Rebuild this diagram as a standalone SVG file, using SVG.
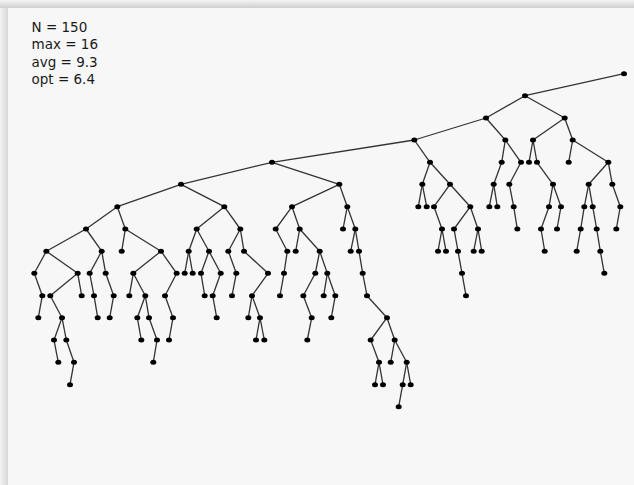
<svg xmlns="http://www.w3.org/2000/svg" xmlns:xlink="http://www.w3.org/1999/xlink" width="634" height="485" viewBox="0 0 634 485">
<style>
.lbl{font-family:"DejaVu Sans","Liberation Sans",sans-serif;font-size:13.5px;fill:#1a1a1a}
.edges line{stroke:#333;stroke-width:1.3}
.dot{fill:#000}
</style>
<defs>
<ellipse id="dot" class="dot" cx="0" cy="0" rx="3" ry="2.5"/>
<linearGradient id="shL" x1="0" y1="0" x2="1" y2="0"><stop offset="0" stop-color="#f4f4f4"/><stop offset="1" stop-color="#d6d6d6"/></linearGradient>
<linearGradient id="shT" x1="0" y1="0" x2="0" y2="1"><stop offset="0" stop-color="#f4f4f4"/><stop offset="1" stop-color="#cfcfcf"/></linearGradient>
</defs>
<rect x="0" y="0" width="634" height="485" fill="#fbfbfb"/>
<rect x="0" y="0" width="8" height="485" fill="url(#shL)"/>
<rect x="0" y="0" width="634" height="8" fill="url(#shT)"/>
<rect x="8" y="8" width="626" height="477" fill="#f7f7f7"/>
<g id="stats">
<text class="lbl" x="31.5" y="32">N = 150</text>
<text class="lbl" x="31.5" y="49.3">max = 16</text>
<text class="lbl" x="31.5" y="66.6">avg = 9.3</text>
<text class="lbl" x="31.5" y="83.9">opt = 6.4</text>
</g>
<g class="edges" id="connectors">
<line x1="624" y1="73.7" x2="525" y2="95.7"/>
<line x1="525" y1="95.7" x2="486" y2="118"/>
<line x1="525" y1="95.7" x2="564.7" y2="118"/>
<line x1="486" y1="118" x2="414.3" y2="140"/>
<line x1="486" y1="118" x2="505.3" y2="140"/>
<line x1="564.7" y1="118" x2="533" y2="140"/>
<line x1="564.7" y1="118" x2="572.7" y2="140"/>
<line x1="414.3" y1="140" x2="272" y2="162.3"/>
<line x1="414.3" y1="140" x2="430" y2="162.3"/>
<line x1="505.3" y1="140" x2="501.7" y2="162.3"/>
<line x1="505.3" y1="140" x2="521" y2="162.3"/>
<line x1="533" y1="140" x2="529" y2="162.3"/>
<line x1="533" y1="140" x2="537" y2="162.3"/>
<line x1="572.7" y1="140" x2="568.7" y2="162.3"/>
<line x1="572.7" y1="140" x2="608.3" y2="162.3"/>
<line x1="272" y1="162.3" x2="181" y2="184.3"/>
<line x1="272" y1="162.3" x2="339.3" y2="184.3"/>
<line x1="430" y1="162.3" x2="422.3" y2="184.3"/>
<line x1="430" y1="162.3" x2="450" y2="184.3"/>
<line x1="501.7" y1="162.3" x2="493.7" y2="184.3"/>
<line x1="521" y1="162.3" x2="509.3" y2="184.3"/>
<line x1="537" y1="162.3" x2="553" y2="184.3"/>
<line x1="608.3" y1="162.3" x2="588.7" y2="184.3"/>
<line x1="608.3" y1="162.3" x2="612.3" y2="184.3"/>
<line x1="181" y1="184.3" x2="117.3" y2="206.7"/>
<line x1="181" y1="184.3" x2="224.3" y2="206.7"/>
<line x1="339.3" y1="184.3" x2="292" y2="206.7"/>
<line x1="339.3" y1="184.3" x2="347.3" y2="206.7"/>
<line x1="422.3" y1="184.3" x2="418.3" y2="206.7"/>
<line x1="422.3" y1="184.3" x2="426.7" y2="206.7"/>
<line x1="450" y1="184.3" x2="434" y2="206.7"/>
<line x1="450" y1="184.3" x2="470.3" y2="206.7"/>
<line x1="493.7" y1="184.3" x2="489.3" y2="206.7"/>
<line x1="493.7" y1="184.3" x2="497.3" y2="206.7"/>
<line x1="509.3" y1="184.3" x2="513.7" y2="206.7"/>
<line x1="553" y1="184.3" x2="549" y2="206.7"/>
<line x1="553" y1="184.3" x2="561" y2="206.7"/>
<line x1="588.7" y1="184.3" x2="584.3" y2="206.7"/>
<line x1="588.7" y1="184.3" x2="592.7" y2="206.7"/>
<line x1="612.3" y1="184.3" x2="620.3" y2="206.7"/>
<line x1="117.3" y1="206.7" x2="86" y2="229"/>
<line x1="117.3" y1="206.7" x2="125.3" y2="229"/>
<line x1="224.3" y1="206.7" x2="196.7" y2="229"/>
<line x1="224.3" y1="206.7" x2="240.3" y2="229"/>
<line x1="292" y1="206.7" x2="275.7" y2="229"/>
<line x1="292" y1="206.7" x2="299.7" y2="229"/>
<line x1="347.3" y1="206.7" x2="343" y2="229"/>
<line x1="347.3" y1="206.7" x2="355.3" y2="229"/>
<line x1="434" y1="206.7" x2="442" y2="229"/>
<line x1="470.3" y1="206.7" x2="454" y2="229"/>
<line x1="470.3" y1="206.7" x2="478" y2="229"/>
<line x1="513.7" y1="206.7" x2="517.3" y2="229"/>
<line x1="549" y1="206.7" x2="541" y2="229"/>
<line x1="561" y1="206.7" x2="557" y2="229"/>
<line x1="584.3" y1="206.7" x2="580.7" y2="229"/>
<line x1="592.7" y1="206.7" x2="596.7" y2="229"/>
<line x1="620.3" y1="206.7" x2="616.3" y2="229"/>
<line x1="86" y1="229" x2="46.3" y2="251.2"/>
<line x1="86" y1="229" x2="101.7" y2="251.2"/>
<line x1="125.3" y1="229" x2="121.7" y2="251.2"/>
<line x1="125.3" y1="229" x2="161" y2="251.2"/>
<line x1="196.7" y1="229" x2="188.7" y2="251.2"/>
<line x1="196.7" y1="229" x2="209" y2="251.2"/>
<line x1="240.3" y1="229" x2="228.3" y2="251.2"/>
<line x1="240.3" y1="229" x2="244" y2="251.2"/>
<line x1="275.7" y1="229" x2="287.3" y2="251.2"/>
<line x1="299.7" y1="229" x2="295.7" y2="251.2"/>
<line x1="299.7" y1="229" x2="319.7" y2="251.2"/>
<line x1="355.3" y1="229" x2="350.7" y2="251.2"/>
<line x1="355.3" y1="229" x2="359" y2="251.2"/>
<line x1="442" y1="229" x2="438" y2="251.2"/>
<line x1="442" y1="229" x2="446" y2="251.2"/>
<line x1="454" y1="229" x2="458" y2="251.2"/>
<line x1="478" y1="229" x2="473.7" y2="251.2"/>
<line x1="478" y1="229" x2="481.7" y2="251.2"/>
<line x1="541" y1="229" x2="544.7" y2="251.2"/>
<line x1="580.7" y1="229" x2="576.7" y2="251.2"/>
<line x1="596.7" y1="229" x2="600.3" y2="251.2"/>
<line x1="46.3" y1="251.2" x2="34.3" y2="273.3"/>
<line x1="46.3" y1="251.2" x2="77.7" y2="273.3"/>
<line x1="101.7" y1="251.2" x2="89.7" y2="273.3"/>
<line x1="101.7" y1="251.2" x2="105.7" y2="273.3"/>
<line x1="161" y1="251.2" x2="133.3" y2="273.3"/>
<line x1="161" y1="251.2" x2="176.7" y2="273.3"/>
<line x1="188.7" y1="251.2" x2="184.7" y2="273.3"/>
<line x1="188.7" y1="251.2" x2="192.7" y2="273.3"/>
<line x1="209" y1="251.2" x2="201" y2="273.3"/>
<line x1="209" y1="251.2" x2="220.7" y2="273.3"/>
<line x1="228.3" y1="251.2" x2="236.3" y2="273.3"/>
<line x1="244" y1="251.2" x2="268" y2="273.3"/>
<line x1="287.3" y1="251.2" x2="284" y2="273.3"/>
<line x1="319.7" y1="251.2" x2="315.3" y2="273.3"/>
<line x1="319.7" y1="251.2" x2="327.3" y2="273.3"/>
<line x1="359" y1="251.2" x2="362.7" y2="273.3"/>
<line x1="458" y1="251.2" x2="462" y2="273.3"/>
<line x1="600.3" y1="251.2" x2="604.3" y2="273.3"/>
<line x1="34.3" y1="273.3" x2="42.3" y2="295.7"/>
<line x1="77.7" y1="273.3" x2="50.3" y2="295.7"/>
<line x1="77.7" y1="273.3" x2="81.7" y2="295.7"/>
<line x1="89.7" y1="273.3" x2="94" y2="295.7"/>
<line x1="105.7" y1="273.3" x2="113.7" y2="295.7"/>
<line x1="133.3" y1="273.3" x2="129.3" y2="295.7"/>
<line x1="133.3" y1="273.3" x2="145.3" y2="295.7"/>
<line x1="176.7" y1="273.3" x2="165" y2="295.7"/>
<line x1="201" y1="273.3" x2="204.7" y2="295.7"/>
<line x1="220.7" y1="273.3" x2="212.7" y2="295.7"/>
<line x1="236.3" y1="273.3" x2="232" y2="295.7"/>
<line x1="268" y1="273.3" x2="252" y2="295.7"/>
<line x1="284" y1="273.3" x2="280" y2="295.7"/>
<line x1="315.3" y1="273.3" x2="303.3" y2="295.7"/>
<line x1="327.3" y1="273.3" x2="323.7" y2="295.7"/>
<line x1="327.3" y1="273.3" x2="335.3" y2="295.7"/>
<line x1="362.7" y1="273.3" x2="367" y2="295.7"/>
<line x1="462" y1="273.3" x2="466" y2="295.7"/>
<line x1="42.3" y1="295.7" x2="38.3" y2="317.7"/>
<line x1="50.3" y1="295.7" x2="62" y2="317.7"/>
<line x1="94" y1="295.7" x2="97.7" y2="317.7"/>
<line x1="113.7" y1="295.7" x2="109.7" y2="317.7"/>
<line x1="145.3" y1="295.7" x2="137.3" y2="317.7"/>
<line x1="145.3" y1="295.7" x2="149" y2="317.7"/>
<line x1="165" y1="295.7" x2="173" y2="317.7"/>
<line x1="212.7" y1="295.7" x2="216.7" y2="317.7"/>
<line x1="252" y1="295.7" x2="248.3" y2="317.7"/>
<line x1="252" y1="295.7" x2="260" y2="317.7"/>
<line x1="303.3" y1="295.7" x2="311.7" y2="317.7"/>
<line x1="335.3" y1="295.7" x2="331.3" y2="317.7"/>
<line x1="367" y1="295.7" x2="387" y2="317.7"/>
<line x1="62" y1="317.7" x2="54" y2="340"/>
<line x1="62" y1="317.7" x2="66.3" y2="340"/>
<line x1="137.3" y1="317.7" x2="141.3" y2="340"/>
<line x1="149" y1="317.7" x2="157" y2="340"/>
<line x1="173" y1="317.7" x2="169" y2="340"/>
<line x1="260" y1="317.7" x2="256" y2="340"/>
<line x1="260" y1="317.7" x2="264.3" y2="340"/>
<line x1="311.7" y1="317.7" x2="307.3" y2="340"/>
<line x1="387" y1="317.7" x2="370.7" y2="340"/>
<line x1="387" y1="317.7" x2="394.7" y2="340"/>
<line x1="54" y1="340" x2="58.3" y2="362.3"/>
<line x1="66.3" y1="340" x2="74" y2="362.3"/>
<line x1="157" y1="340" x2="153.3" y2="362.3"/>
<line x1="370.7" y1="340" x2="379" y2="362.3"/>
<line x1="394.7" y1="340" x2="390.7" y2="362.3"/>
<line x1="394.7" y1="340" x2="406.7" y2="362.3"/>
<line x1="74" y1="362.3" x2="70" y2="384.7"/>
<line x1="379" y1="362.3" x2="375" y2="384.7"/>
<line x1="379" y1="362.3" x2="383" y2="384.7"/>
<line x1="406.7" y1="362.3" x2="402.7" y2="384.7"/>
<line x1="406.7" y1="362.3" x2="410.7" y2="384.7"/>
<line x1="402.7" y1="384.7" x2="398.7" y2="406.7"/>
</g>
<g id="nodes">
<g id="n0"><use href="#dot" x="624" y="73.7"/></g>
<g id="n1"><use href="#dot" x="525" y="95.7"/></g>
<g id="n2"><use href="#dot" x="486" y="118"/></g>
<g id="n3"><use href="#dot" x="564.7" y="118"/></g>
<g id="n4"><use href="#dot" x="414.3" y="140"/></g>
<g id="n5"><use href="#dot" x="505.3" y="140"/></g>
<g id="n6"><use href="#dot" x="533" y="140"/></g>
<g id="n7"><use href="#dot" x="572.7" y="140"/></g>
<g id="n8"><use href="#dot" x="272" y="162.3"/></g>
<g id="n9"><use href="#dot" x="430" y="162.3"/></g>
<g id="n10"><use href="#dot" x="501.7" y="162.3"/></g>
<g id="n11"><use href="#dot" x="521" y="162.3"/></g>
<g id="n12"><use href="#dot" x="529" y="162.3"/></g>
<g id="n13"><use href="#dot" x="537" y="162.3"/></g>
<g id="n14"><use href="#dot" x="568.7" y="162.3"/></g>
<g id="n15"><use href="#dot" x="608.3" y="162.3"/></g>
<g id="n16"><use href="#dot" x="181" y="184.3"/></g>
<g id="n17"><use href="#dot" x="339.3" y="184.3"/></g>
<g id="n18"><use href="#dot" x="422.3" y="184.3"/></g>
<g id="n19"><use href="#dot" x="450" y="184.3"/></g>
<g id="n20"><use href="#dot" x="493.7" y="184.3"/></g>
<g id="n21"><use href="#dot" x="509.3" y="184.3"/></g>
<g id="n22"><use href="#dot" x="553" y="184.3"/></g>
<g id="n23"><use href="#dot" x="588.7" y="184.3"/></g>
<g id="n24"><use href="#dot" x="612.3" y="184.3"/></g>
<g id="n25"><use href="#dot" x="117.3" y="206.7"/></g>
<g id="n26"><use href="#dot" x="224.3" y="206.7"/></g>
<g id="n27"><use href="#dot" x="292" y="206.7"/></g>
<g id="n28"><use href="#dot" x="347.3" y="206.7"/></g>
<g id="n29"><use href="#dot" x="418.3" y="206.7"/></g>
<g id="n30"><use href="#dot" x="426.7" y="206.7"/></g>
<g id="n31"><use href="#dot" x="434" y="206.7"/></g>
<g id="n32"><use href="#dot" x="470.3" y="206.7"/></g>
<g id="n33"><use href="#dot" x="489.3" y="206.7"/></g>
<g id="n34"><use href="#dot" x="497.3" y="206.7"/></g>
<g id="n35"><use href="#dot" x="513.7" y="206.7"/></g>
<g id="n36"><use href="#dot" x="549" y="206.7"/></g>
<g id="n37"><use href="#dot" x="561" y="206.7"/></g>
<g id="n38"><use href="#dot" x="584.3" y="206.7"/></g>
<g id="n39"><use href="#dot" x="592.7" y="206.7"/></g>
<g id="n40"><use href="#dot" x="620.3" y="206.7"/></g>
<g id="n41"><use href="#dot" x="86" y="229"/></g>
<g id="n42"><use href="#dot" x="125.3" y="229"/></g>
<g id="n43"><use href="#dot" x="196.7" y="229"/></g>
<g id="n44"><use href="#dot" x="240.3" y="229"/></g>
<g id="n45"><use href="#dot" x="275.7" y="229"/></g>
<g id="n46"><use href="#dot" x="299.7" y="229"/></g>
<g id="n47"><use href="#dot" x="343" y="229"/></g>
<g id="n48"><use href="#dot" x="355.3" y="229"/></g>
<g id="n49"><use href="#dot" x="442" y="229"/></g>
<g id="n50"><use href="#dot" x="454" y="229"/></g>
<g id="n51"><use href="#dot" x="478" y="229"/></g>
<g id="n52"><use href="#dot" x="517.3" y="229"/></g>
<g id="n53"><use href="#dot" x="541" y="229"/></g>
<g id="n54"><use href="#dot" x="557" y="229"/></g>
<g id="n55"><use href="#dot" x="580.7" y="229"/></g>
<g id="n56"><use href="#dot" x="596.7" y="229"/></g>
<g id="n57"><use href="#dot" x="616.3" y="229"/></g>
<g id="n58"><use href="#dot" x="46.3" y="251.2"/></g>
<g id="n59"><use href="#dot" x="101.7" y="251.2"/></g>
<g id="n60"><use href="#dot" x="121.7" y="251.2"/></g>
<g id="n61"><use href="#dot" x="161" y="251.2"/></g>
<g id="n62"><use href="#dot" x="188.7" y="251.2"/></g>
<g id="n63"><use href="#dot" x="209" y="251.2"/></g>
<g id="n64"><use href="#dot" x="228.3" y="251.2"/></g>
<g id="n65"><use href="#dot" x="244" y="251.2"/></g>
<g id="n66"><use href="#dot" x="287.3" y="251.2"/></g>
<g id="n67"><use href="#dot" x="295.7" y="251.2"/></g>
<g id="n68"><use href="#dot" x="319.7" y="251.2"/></g>
<g id="n69"><use href="#dot" x="350.7" y="251.2"/></g>
<g id="n70"><use href="#dot" x="359" y="251.2"/></g>
<g id="n71"><use href="#dot" x="438" y="251.2"/></g>
<g id="n72"><use href="#dot" x="446" y="251.2"/></g>
<g id="n73"><use href="#dot" x="458" y="251.2"/></g>
<g id="n74"><use href="#dot" x="473.7" y="251.2"/></g>
<g id="n75"><use href="#dot" x="481.7" y="251.2"/></g>
<g id="n76"><use href="#dot" x="544.7" y="251.2"/></g>
<g id="n77"><use href="#dot" x="576.7" y="251.2"/></g>
<g id="n78"><use href="#dot" x="600.3" y="251.2"/></g>
<g id="n79"><use href="#dot" x="34.3" y="273.3"/></g>
<g id="n80"><use href="#dot" x="77.7" y="273.3"/></g>
<g id="n81"><use href="#dot" x="89.7" y="273.3"/></g>
<g id="n82"><use href="#dot" x="105.7" y="273.3"/></g>
<g id="n83"><use href="#dot" x="133.3" y="273.3"/></g>
<g id="n84"><use href="#dot" x="176.7" y="273.3"/></g>
<g id="n85"><use href="#dot" x="184.7" y="273.3"/></g>
<g id="n86"><use href="#dot" x="192.7" y="273.3"/></g>
<g id="n87"><use href="#dot" x="201" y="273.3"/></g>
<g id="n88"><use href="#dot" x="220.7" y="273.3"/></g>
<g id="n89"><use href="#dot" x="236.3" y="273.3"/></g>
<g id="n90"><use href="#dot" x="268" y="273.3"/></g>
<g id="n91"><use href="#dot" x="284" y="273.3"/></g>
<g id="n92"><use href="#dot" x="315.3" y="273.3"/></g>
<g id="n93"><use href="#dot" x="327.3" y="273.3"/></g>
<g id="n94"><use href="#dot" x="362.7" y="273.3"/></g>
<g id="n95"><use href="#dot" x="462" y="273.3"/></g>
<g id="n96"><use href="#dot" x="604.3" y="273.3"/></g>
<g id="n97"><use href="#dot" x="42.3" y="295.7"/></g>
<g id="n98"><use href="#dot" x="50.3" y="295.7"/></g>
<g id="n99"><use href="#dot" x="81.7" y="295.7"/></g>
<g id="n100"><use href="#dot" x="94" y="295.7"/></g>
<g id="n101"><use href="#dot" x="113.7" y="295.7"/></g>
<g id="n102"><use href="#dot" x="129.3" y="295.7"/></g>
<g id="n103"><use href="#dot" x="145.3" y="295.7"/></g>
<g id="n104"><use href="#dot" x="165" y="295.7"/></g>
<g id="n105"><use href="#dot" x="204.7" y="295.7"/></g>
<g id="n106"><use href="#dot" x="212.7" y="295.7"/></g>
<g id="n107"><use href="#dot" x="232" y="295.7"/></g>
<g id="n108"><use href="#dot" x="252" y="295.7"/></g>
<g id="n109"><use href="#dot" x="280" y="295.7"/></g>
<g id="n110"><use href="#dot" x="303.3" y="295.7"/></g>
<g id="n111"><use href="#dot" x="323.7" y="295.7"/></g>
<g id="n112"><use href="#dot" x="335.3" y="295.7"/></g>
<g id="n113"><use href="#dot" x="367" y="295.7"/></g>
<g id="n114"><use href="#dot" x="466" y="295.7"/></g>
<g id="n115"><use href="#dot" x="38.3" y="317.7"/></g>
<g id="n116"><use href="#dot" x="62" y="317.7"/></g>
<g id="n117"><use href="#dot" x="97.7" y="317.7"/></g>
<g id="n118"><use href="#dot" x="109.7" y="317.7"/></g>
<g id="n119"><use href="#dot" x="137.3" y="317.7"/></g>
<g id="n120"><use href="#dot" x="149" y="317.7"/></g>
<g id="n121"><use href="#dot" x="173" y="317.7"/></g>
<g id="n122"><use href="#dot" x="216.7" y="317.7"/></g>
<g id="n123"><use href="#dot" x="248.3" y="317.7"/></g>
<g id="n124"><use href="#dot" x="260" y="317.7"/></g>
<g id="n125"><use href="#dot" x="311.7" y="317.7"/></g>
<g id="n126"><use href="#dot" x="331.3" y="317.7"/></g>
<g id="n127"><use href="#dot" x="387" y="317.7"/></g>
<g id="n128"><use href="#dot" x="54" y="340"/></g>
<g id="n129"><use href="#dot" x="66.3" y="340"/></g>
<g id="n130"><use href="#dot" x="141.3" y="340"/></g>
<g id="n131"><use href="#dot" x="157" y="340"/></g>
<g id="n132"><use href="#dot" x="169" y="340"/></g>
<g id="n133"><use href="#dot" x="256" y="340"/></g>
<g id="n134"><use href="#dot" x="264.3" y="340"/></g>
<g id="n135"><use href="#dot" x="307.3" y="340"/></g>
<g id="n136"><use href="#dot" x="370.7" y="340"/></g>
<g id="n137"><use href="#dot" x="394.7" y="340"/></g>
<g id="n138"><use href="#dot" x="58.3" y="362.3"/></g>
<g id="n139"><use href="#dot" x="74" y="362.3"/></g>
<g id="n140"><use href="#dot" x="153.3" y="362.3"/></g>
<g id="n141"><use href="#dot" x="379" y="362.3"/></g>
<g id="n142"><use href="#dot" x="390.7" y="362.3"/></g>
<g id="n143"><use href="#dot" x="406.7" y="362.3"/></g>
<g id="n144"><use href="#dot" x="70" y="384.7"/></g>
<g id="n145"><use href="#dot" x="375" y="384.7"/></g>
<g id="n146"><use href="#dot" x="383" y="384.7"/></g>
<g id="n147"><use href="#dot" x="402.7" y="384.7"/></g>
<g id="n148"><use href="#dot" x="410.7" y="384.7"/></g>
<g id="n149"><use href="#dot" x="398.7" y="406.7"/></g>
</g>
</svg>
